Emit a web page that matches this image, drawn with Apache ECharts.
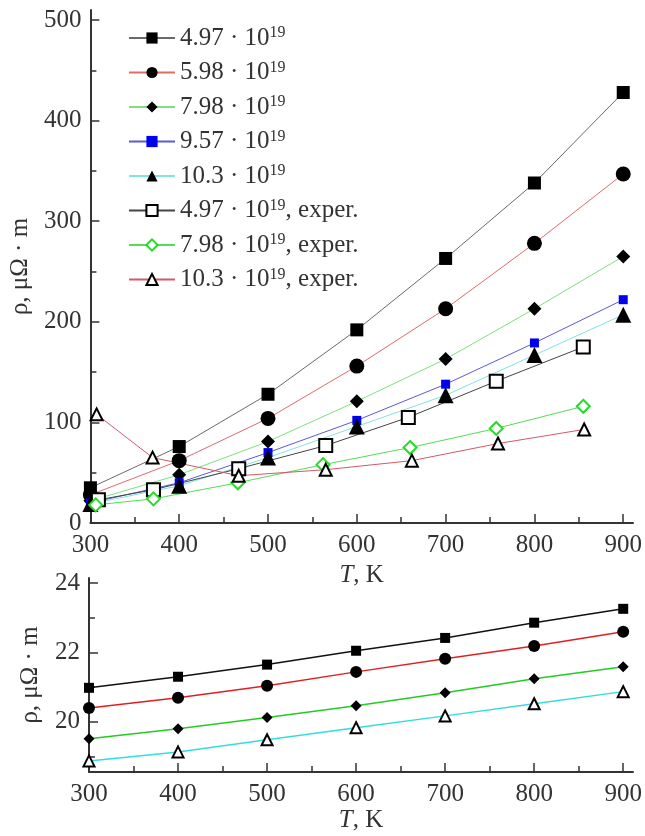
<!DOCTYPE html>
<html lang="en">
  <head>
    <meta charset="UTF-8" />
    <title>Resistivity vs temperature</title>
    <script src="https://cdn.jsdelivr.net/npm/echarts@6.0.0/dist/echarts.min.js"></script>
  </head>
  <body style="margin: 0">
    <div id="main" style="width: 645px; height: 836px"></div>
    <script type="text/javascript">
      // temperatures for the calculated curves, K
      const temps = [300, 400, 500, 600, 700, 800, 900];

      // upper panel, calculated rho (uOhm*m)
      const calc497 = [35, 76, 128, 192, 263, 338, 428];
      const calc598 = [28, 62, 104, 156, 213, 278, 347];
      const calc798 = [22, 48, 81, 121, 163, 213, 265];
      const calc957 = [20, 40, 70, 102, 138, 179, 222];
      const calc103 = [19, 37, 65, 96, 127, 167, 207];

      // upper panel, experiment
      const exp497T = [309, 371, 467, 565, 658, 757, 855];
      const exp497 = [23, 33, 54, 77, 105, 141, 175];
      const exp798T = [306, 371, 466, 562, 660, 757, 855];
      const exp798 = [18, 24, 40, 58, 75, 94, 116];
      const exp103T = [307, 370, 467, 565, 662, 759, 856];
      const exp103 = [108, 65, 47, 53, 62, 79, 93];

      // lower panel
      const low1 = [20.98, 21.3, 21.65, 22.05, 22.42, 22.86, 23.26];
      const low2 = [20.4, 20.69, 21.04, 21.44, 21.82, 22.19, 22.6];
      const low3 = [19.51, 19.8, 20.12, 20.46, 20.84, 21.24, 21.59];
      const low4 = [18.87, 19.13, 19.48, 19.83, 20.17, 20.52, 20.87];

      // ticks
      const xTicks = [300, 400, 500, 600, 700, 800, 900];
      const xMinor = [350, 450, 550, 650, 750, 850];
      const yTopTicks = [0, 100, 200, 300, 400, 500];
      const yTopMinor = [50, 150, 250, 350, 450];
      const yLowTicks = [20, 22, 24];
      const yLowMinor = [19, 21, 23];

      const legendText = {
        "4.97": ["4.97 · 10", "19", ""],
        "5.98": ["5.98 · 10", "19", ""],
        "7.98": ["7.98 · 10", "19", ""],
        "9.57": ["9.57 · 10", "19", ""],
        "10.3": ["10.3 · 10", "19", ""],
        "4.97 exper.": ["4.97 · 10", "19", ", exper."],
        "7.98 exper.": ["7.98 · 10", "19", ", exper."],
        "10.3 exper.": ["10.3 · 10", "19", ", exper."],
      };

      const font = "Liberation Serif";
      const ink = "#333";
      const zip = (xs, ys) => xs.map((x, i) => [x, ys[i]]);

      function axisPair(dim, grid, min, max, major, minor, extra) {
        const main = Object.assign(
          {
            type: "value",
            gridIndex: grid,
            min: min,
            max: max,
            position: dim === "x" ? "bottom" : "left",
            axisLine: { onZero: false, lineStyle: { color: ink, width: 2 } },
            axisTick: {
              inside: true,
              length: 9,
              customValues: major,
              lineStyle: { color: ink, width: 1.5 },
            },
            axisLabel: {
              customValues: major,
              fontFamily: font,
              fontSize: 25,
              color: ink,
              margin: dim === "x" ? 10 : 9,
            },
            splitLine: { show: false },
            nameLocation: "middle",
            nameTextStyle: { fontFamily: font, fontSize: 25, color: ink },
          },
          extra
        );
        const sub = {
          type: "value",
          gridIndex: grid,
          min: min,
          max: max,
          position: dim === "x" ? "bottom" : "left",
          axisLine: { show: false, onZero: false },
          axisTick: {
            inside: true,
            length: 6,
            customValues: minor,
            lineStyle: { color: ink, width: 1.5 },
          },
          axisLabel: { show: false },
          splitLine: { show: false },
        };
        return [main, sub];
      }

      const tName = {
        name: "{i|T}, K",
        nameGap: 30,
        nameTextStyle: {
          fontFamily: font,
          fontSize: 25,
          color: ink,
          rich: { i: { fontFamily: font, fontSize: 25, fontStyle: "italic", color: ink } },
        },
      };

      const xAxes = [
        ...axisPair("x", 0, 300, 911, xTicks, xMinor, tName),
        ...axisPair("x", 1, 300, 911, xTicks, xMinor, Object.assign({}, tName, { nameGap: 36 })),
      ];
      const yAxes = [
        ...axisPair("y", 0, 0, 510, yTopTicks, yTopMinor, {
          name: "ρ, μΩ · m",
          nameGap: 54,
        }),
        ...axisPair("y", 1, 18.55, 24.15, yLowTicks, yLowMinor, {
          name: "ρ, μΩ · m",
          nameGap: 46,
        }),
      ];

      function line(name, data, lineColor, symbol, symColor, size, axis, width) {
        return {
          name: name,
          type: "line",
          xAxisIndex: axis,
          yAxisIndex: axis,
          data: data,
          symbol: symbol,
          symbolSize: size,
          lineStyle: { color: lineColor, width: width || 1 },
          itemStyle: { color: symColor, borderWidth: 1.5 },
        };
      }

      const series = [
        line("4.97", zip(temps, calc497), "#6a6a6a", "rect", "#000", 13, 0),
        line("5.98", zip(temps, calc598), "#e06a6a", "circle", "#000", 15, 0),
        line("7.98", zip(temps, calc798), "#7ee07e", "diamond", "#000", 14, 0),
        line("9.57", zip(temps, calc957), "#5a5ad8", "rect", "#0000ee", 9, 0),
        line("10.3", zip(temps, calc103), "#80e4e4", "triangle", "#000", 16, 0),
        line("4.97 exper.", zip(exp497T, exp497), "#444", "emptyRect", "#000", 13, 0),
        line("7.98 exper.", zip(exp798T, exp798), "#55dd55", "emptyDiamond", "#22dd22", 13, 0),
        line("10.3 exper.", zip(exp103T, exp103), "#d05a6a", "emptyTriangle", "#000", 12, 0),
        line("low 4.97", zip(temps, low1), "#111", "rect", "#000", 10, 2, 1.5),
        line("low 5.98", zip(temps, low2), "#e02020", "circle", "#000", 12, 2, 1.5),
        line("low 7.98", zip(temps, low3), "#22cc22", "diamond", "#000", 11, 2, 1.5),
        line("low 10.3", zip(temps, low4), "#33dddd", "emptyTriangle", "#000", 11, 2, 1.5),
      ];

      const myChart = echarts.init(document.getElementById("main"));
      myChart.setOption({
        animation: false,
        backgroundColor: "#fff",
        grid: [
          { left: 89, right: 12, top: 10, bottom: 313 },
          { left: 89, right: 12, top: 578, bottom: 64 },
        ],
        legend: {
          data: Object.keys(legendText),
          orient: "vertical",
          left: 123,
          top: 20,
          itemWidth: 46,
          itemHeight: 14,
          itemGap: 9,
          formatter: (n) => {
            const t = legendText[n];
            return "{b|" + t[0] + "}{s|" + t[1] + "}" + (t[2] ? "{b|" + t[2] + "}" : "");
          },
          textStyle: {
            fontFamily: font,
            fontSize: 25,
            color: ink,
            rich: {
              b: { fontFamily: font, fontSize: 25, lineHeight: 26, color: ink },
              s: { fontFamily: font, fontSize: 16, lineHeight: 16, verticalAlign: "top", color: ink },
            },
          },
        },
        xAxis: xAxes.map((a, i) => Object.assign(a, { gridIndex: i < 2 ? 0 : 1 })),
        yAxis: yAxes.map((a, i) => Object.assign(a, { gridIndex: i < 2 ? 0 : 1 })),
        series: series,
      });
    </script>
  </body>
</html>
